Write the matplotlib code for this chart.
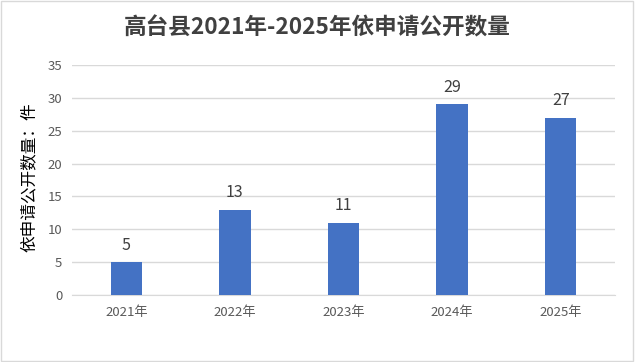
import matplotlib.pyplot as plt
import numpy as np

plt.rcParams['font.family'] = ['Noto Sans CJK SC', 'DejaVu Sans']

years = ['2021年', '2022年', '2023年', '2024年', '2025年']
counts = [5, 13, 11, 29, 27]

fig = plt.figure(figsize=(6.35, 3.62), dpi=100)
ax = fig.add_axes([0.1134, 0.1851, 0.8551, 0.6353])

x = np.arange(len(years))
bars = ax.bar(x, counts, width=0.29, color='#4472C4', zorder=3)

for xi, v in zip(x, counts):
    ax.text(xi, v + 1.3, str(v), ha='center', va='bottom', fontsize=11.5, color='#404040')

ax.set_xlim(-0.5, len(years) - 0.5)
ax.set_ylim(0, 35)
ax.set_yticks(range(0, 36, 5))
ax.set_xticks(x)
ax.set_xticklabels(years)
ax.tick_params(axis='both', length=0, labelsize=9.5, colors='#595959')
ax.tick_params(axis='y', pad=7)
ax.tick_params(axis='x', pad=8)
ax.grid(axis='y', color='#D9D9D9', linewidth=1, zorder=0)
for s in ['top', 'right', 'left']:
    ax.spines[s].set_visible(False)
ax.spines['bottom'].set_color('#D9D9D9')

fig.text(29 / 635, 1 - 177 / 362, '依申请公开数量：件', rotation=90, ha='center', va='center',
         fontsize=12, color='#000000')
fig.text(0.5, 0.923, '高台县2021年-2025年依申请公开数量', ha='center', va='center',
         fontsize=16.3, fontweight='bold', color='#404040')

fig.patches.append(plt.Rectangle((0.002, 0.003), 0.995, 0.993, transform=fig.transFigure,
                                 fill=False, edgecolor='#D9D9D9', linewidth=1))

fig.savefig('out.png', dpi=100)
